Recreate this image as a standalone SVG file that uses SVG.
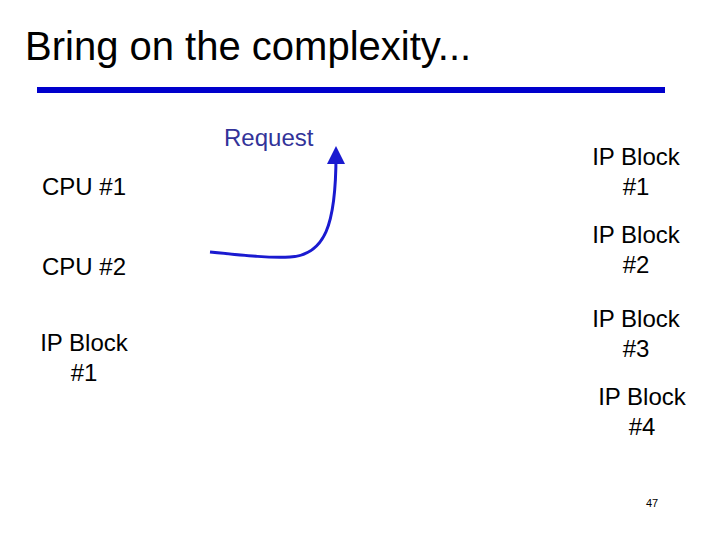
<svg xmlns="http://www.w3.org/2000/svg" width="720" height="540" viewBox="0 0 720 540">
<defs>
<style>
.t{font-family:"Liberation Sans",Arial,sans-serif;font-size:24px;fill:#000}
</style>
<marker id="ah" markerWidth="6" markerHeight="6" refX="3" refY="3" orient="auto" markerUnits="strokeWidth"><path d="M0,0L6,3L0,6z" fill="#1a1ad0"/></marker>
</defs>
<rect width="720" height="540" fill="#fff"/>
<text x="25" y="60" style="font-family:'Liberation Sans',Arial,sans-serif;font-size:40px">Bring on the complexity...</text>
<rect x="37" y="87" width="628" height="6" fill="#0000cc"/>
<g id="request"><text x="224" y="146" class="t" style="fill:#333399">Request</text></g>
<g id="cpu1"><text x="42" y="195" class="t">CPU #1</text></g>
<g id="cpu2"><text x="42" y="275" class="t">CPU #2</text></g>
<g id="ipl1"><text x="84" y="351" class="t" text-anchor="middle">IP Block</text><text x="84" y="381" class="t" text-anchor="middle">#1</text></g>
<g id="ipr1"><text x="636" y="165" class="t" text-anchor="middle">IP Block</text><text x="636" y="195" class="t" text-anchor="middle">#1</text></g>
<g id="ipr2"><text x="636" y="243" class="t" text-anchor="middle">IP Block</text><text x="636" y="273" class="t" text-anchor="middle">#2</text></g>
<g id="ipr3"><text x="636" y="327" class="t" text-anchor="middle">IP Block</text><text x="636" y="357" class="t" text-anchor="middle">#3</text></g>
<g id="ipr4"><text x="642" y="405" class="t" text-anchor="middle">IP Block</text><text x="642" y="435" class="t" text-anchor="middle">#4</text></g>
<g id="connectors"><path d="M210,252 C250,256 270,258 290,257 C325,255 336,225 336,155" fill="none" stroke="#1a1ad0" stroke-width="3" marker-end="url(#ah)"/></g>
<text x="652" y="507" style="font-family:'Liberation Sans',Arial,sans-serif;font-size:11px" text-anchor="middle">47</text>
</svg>
